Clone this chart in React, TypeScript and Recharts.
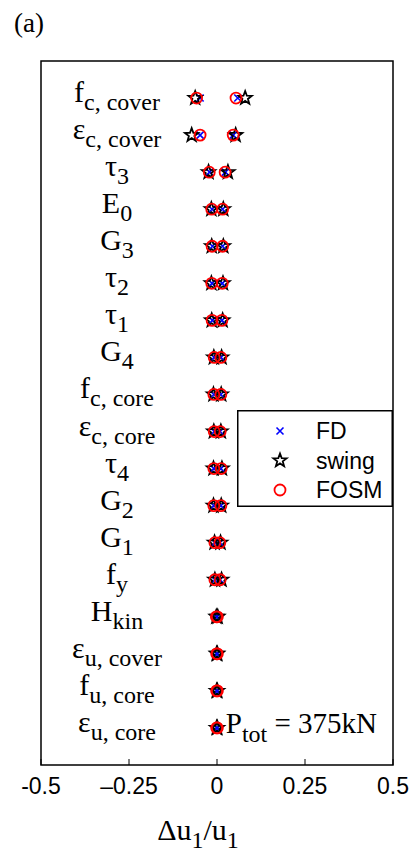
import React from "react";
import {
  ScatterChart,
  Scatter,
  XAxis,
  YAxis,
  ReferenceArea,
  ReferenceDot,
  Legend,
} from "recharts";

const SERIF = "'Liberation Serif', 'Times New Roman', serif";
const SANS = "'Liberation Sans', Arial, sans-serif";

// parameters, top row first: base symbol + subscript
const paramBase = ["f", "ε", "τ", "E", "G", "τ", "τ", "G", "f", "ε", "τ", "G", "G", "f", "H", "ε", "f", "ε"];
const paramSub = [
  "c, cover", "c, cover", "3", "0", "3", "2", "1", "4", "c, core",
  "c, core", "4", "2", "1", "y", "kin", "u, cover", "u, core", "u, core",
];

// Δu1/u1 at the low and high value of each parameter
const fdLow = [-0.048, -0.048, -0.021, -0.014, -0.013, -0.014, -0.013, -0.008, -0.009, -0.008, -0.009, -0.009, -0.006, -0.006, -0.002, -0.001, -0.001, -0.001];
const fdHigh = [0.059, 0.046, 0.024, 0.016, 0.016, 0.015, 0.014, 0.011, 0.011, 0.009, 0.011, 0.011, 0.008, 0.009, 0.001, 0.001, 0.001, 0.001];
const swingLow = [-0.062, -0.072, -0.024, -0.016, -0.015, -0.016, -0.015, -0.009, -0.010, -0.009, -0.010, -0.010, -0.007, -0.006, -0.002, -0.001, -0.001, -0.001];
const swingHigh = [0.080, 0.053, 0.031, 0.018, 0.018, 0.017, 0.016, 0.013, 0.012, 0.011, 0.014, 0.012, 0.010, 0.013, 0.002, 0.001, 0.001, 0.001];
const fosmLow = [-0.058, -0.048, -0.022, -0.015, -0.014, -0.015, -0.014, -0.008, -0.009, -0.008, -0.009, -0.009, -0.006, -0.006, -0.002, -0.001, -0.001, -0.001];
const fosmHigh = [0.054, 0.046, 0.023, 0.016, 0.016, 0.015, 0.014, 0.011, 0.011, 0.009, 0.012, 0.011, 0.008, 0.009, 0.001, 0.001, 0.001, 0.001];

const xTicks = [-0.5, -0.25, 0, 0.25, 0.5];
const xTickLabels = ["-0.5", "–0.25", "0", "0.25", "0.5"];
const rows = paramBase.map((_, i) => i + 1);

const toPoints = (low: number[], high: number[]) =>
  low.flatMap((v, i) => [
    { x: v, row: i + 1 },
    { x: high[i], row: i + 1 },
  ]);

const fdData = toPoints(fdLow, fdHigh);
const swingData = toPoints(swingLow, swingHigh);
const fosmData = toPoints(fosmLow, fosmHigh);

function starPath(cx: number, cy: number, R: number, r: number) {
  let d = "";
  for (let k = 0; k < 10; k++) {
    const rad = k % 2 === 0 ? R : r;
    const a = -Math.PI / 2 + (k * Math.PI) / 5;
    d += (k === 0 ? "M" : "L") + (cx + rad * Math.cos(a)).toFixed(2) + "," + (cy + rad * Math.sin(a)).toFixed(2);
  }
  return d + "Z";
}

const Cross = ({ cx, cy }: any) => {
  const s = 3.5;
  return (
    <path
      d={`M${cx - s},${cy - s}L${cx + s},${cy + s}M${cx - s},${cy + s}L${cx + s},${cy - s}`}
      stroke="#0000ff"
      strokeWidth={1.6}
      fill="none"
    />
  );
};

const Star = ({ cx, cy }: any) => (
  <path d={starPath(cx, cy, 7, 2.9)} stroke="#000" strokeWidth={1.8} strokeLinejoin="miter" fill="none" />
);

const Ring = ({ cx, cy }: any) => (
  <circle cx={cx} cy={cy} r={5.5} stroke="#ff0000" strokeWidth={1.8} fill="none" />
);

const legendItems = [
  { name: "FD", Marker: Cross },
  { name: "swing", Marker: Star },
  { name: "FOSM", Marker: Ring },
];

const ParamTick = ({ x, y, payload }: any) => {
  const i = payload.value - 1;
  return (
    <text x={x + 76} y={y + 4} textAnchor="middle" fontFamily={SERIF} fontSize={30} fill="#000">
      {paramBase[i]}
      <tspan fontSize={24} dy={8}>
        {paramSub[i]}
      </tspan>
    </text>
  );
};

const BottomTick = ({ x, y, payload, index }: any) => (
  <g>
    <line x1={x} y1={y} x2={x} y2={y - 6} stroke="#000" strokeWidth={1} />
    <text x={x} y={y + 29} textAnchor="middle" fontFamily={SANS} fontSize={23} fill="#000">
      {xTickLabels[index] ?? payload.value}
    </text>
  </g>
);

const TopTick = ({ x, y }: any) => (
  <line x1={x} y1={y} x2={x} y2={y + 6} stroke="#000" strokeWidth={1} />
);

const XLabel = ({ viewBox }: any) => (
  <text
    x={viewBox.x + viewBox.width / 2 - 19}
    y={viewBox.y + 75}
    textAnchor="middle"
    fontFamily={SERIF}
    fontSize={30}
    fill="#000"
  >
    Δu
    <tspan fontSize={24} dy={8}>1</tspan>
    <tspan dy={-8}>/u</tspan>
    <tspan fontSize={24} dy={8}>1</tspan>
  </text>
);

const PtotLabel = ({ viewBox }: any) => (
  <text x={viewBox.x + 1} y={viewBox.y + 5} fontFamily={SERIF} fontSize={29} fill="#000">
    P
    <tspan fontSize={24} dy={9}>tot</tspan>
    <tspan dy={-9}> = 375kN</tspan>
  </text>
);

const LegendBox = () => (
  <svg width={156} height={97} style={{ display: "block" }}>
    <rect x={0.75} y={0.75} width={154.5} height={95.5} fill="#fff" stroke="#000" strokeWidth={1.5} />
    {legendItems.map(({ name, Marker }, i) => {
      const cy = 21 + i * 29.5;
      return (
        <g key={name}>
          <Marker cx={43} cy={cy} />
          <text x={79} y={cy + 8} fontFamily={SANS} fontSize={23} fill="#000">
            {name}
          </text>
        </g>
      );
    })}
  </svg>
);

export default function App() {
  return (
    <div style={{ position: "absolute", left: 0, top: 0, width: 413, height: 855, background: "#fff" }}>
      <svg width={80} height={50} style={{ position: "absolute", left: 0, top: 0 }}>
        <text x={14} y={32} fontFamily={SERIF} fontSize={27} fill="#000">
          (a)
        </text>
      </svg>
      <ScatterChart width={413} height={855} margin={{ top: 60, right: 20, bottom: 30, left: 40 }}>
        <XAxis
          dataKey="x"
          type="number"
          domain={[-0.5, 0.5]}
          ticks={xTicks}
          interval={0}
          tick={<BottomTick />}
          tickLine={false}
          axisLine={false}
          tickSize={0}
          tickMargin={0}
          height={60}
          label={<XLabel />}
        />
        <XAxis
          xAxisId="top"
          orientation="top"
          type="number"
          domain={[-0.5, 0.5]}
          ticks={xTicks}
          interval={0}
          tick={<TopTick />}
          tickLine={false}
          axisLine={false}
          tickSize={0}
          tickMargin={0}
          height={1}
        />
        <YAxis
          dataKey="row"
          type="number"
          domain={[0, 19]}
          reversed
          ticks={rows}
          interval={0}
          tick={<ParamTick />}
          tickLine={false}
          axisLine={false}
          tickSize={0}
          tickMargin={0}
          width={1}
        />
        <ReferenceArea x1={-0.5} x2={0.5} y1={0} y2={19} fill="none" fillOpacity={0} stroke="#000" strokeWidth={1.5} />
        <Scatter name="FD" data={fdData} isAnimationActive={false} shape={(p: any) => <Cross cx={p.cx} cy={p.cy} />} />
        <Scatter name="swing" data={swingData} isAnimationActive={false} shape={(p: any) => <Star cx={p.cx} cy={p.cy} />} />
        <Scatter name="FOSM" data={fosmData} isAnimationActive={false} shape={(p: any) => <Ring cx={p.cx} cy={p.cy} />} />
        <ReferenceDot x={0.022} y={18} r={0} fill="none" stroke="none" label={<PtotLabel />} />
        <Legend
          layout="vertical"
          align="center"
          verticalAlign="middle"
          content={<LegendBox />}
          wrapperStyle={{ left: 237, top: 410, width: 156, height: 97 }}
        />
      </ScatterChart>
    </div>
  );
}
